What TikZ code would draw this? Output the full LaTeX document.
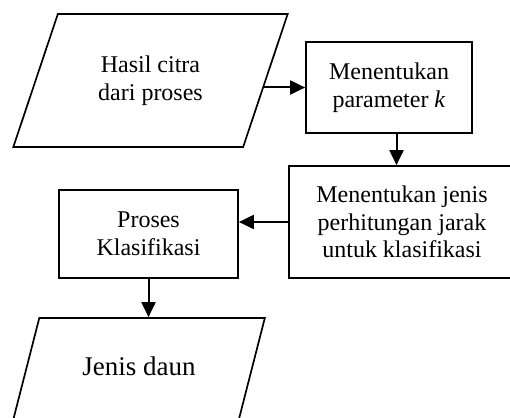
\documentclass[tikz,border=0pt]{standalone}
\usepackage{fontspec}
\setmainfont{Liberation Serif}
\usetikzlibrary{arrows.meta,shapes.geometric,positioning}

\begin{document}
\begin{tikzpicture}[x=1pt, y=-1pt, >={Triangle[length=15pt,width=14pt]},
    every node/.style={font=\fontsize{24}{27.6}\selectfont, align=center, line width=1.7pt},
    procbox/.style={draw, rectangle, inner sep=0pt},
    iobox/.style={draw, trapezium, trapezium stretches=true, inner sep=0pt},
    flow/.style={->, line width=2pt}]
  \useasboundingbox (0,0) rectangle (510,417);
  \clip (0,0) rectangle (510,417);

  % ---- Input and parameter ----
  \node[iobox, trapezium left angle=63, trapezium right angle=117,
        minimum width=275pt, minimum height=133pt] (hasil) at (150.5, 80.5) {Hasil citra\\dari proses};
  \node[procbox, minimum width=166pt, minimum height=91pt] (param) at (389, 87.5) {Menentukan\\parameter \textit{k}};

  % ---- Distance and classification ----
  \node[procbox, minimum width=226pt, minimum height=112pt] (jarak) at (402, 222) {Menentukan jenis\\perhitungan jarak\\untuk klasifikasi};
  \node[procbox, minimum width=179pt, minimum height=88pt] (klas) at (148.5, 234) {Proses\\Klasifikasi};

  % ---- Output ----
  \node[iobox, trapezium left angle=58, trapezium right angle=122,
        minimum width=252pt, minimum height=102pt,
        font=\fontsize{27}{31}\selectfont] (daun) at (139, 369) {\raisebox{5pt}{Jenis daun}};

  % ---- Flow ----
  \draw[flow, shorten <=-3.5pt] (hasil.east |- param.west) -- (param.west);
  \draw[flow] ([xshift=7.5pt]param.south) -- ([xshift=7.5pt]param.south |- jarak.north);
  \draw[flow] (jarak.west) -- (jarak.west -| klas.east);
  \draw[flow] (klas.south) -- (klas.south |- daun.north);
\end{tikzpicture}
\end{document}
